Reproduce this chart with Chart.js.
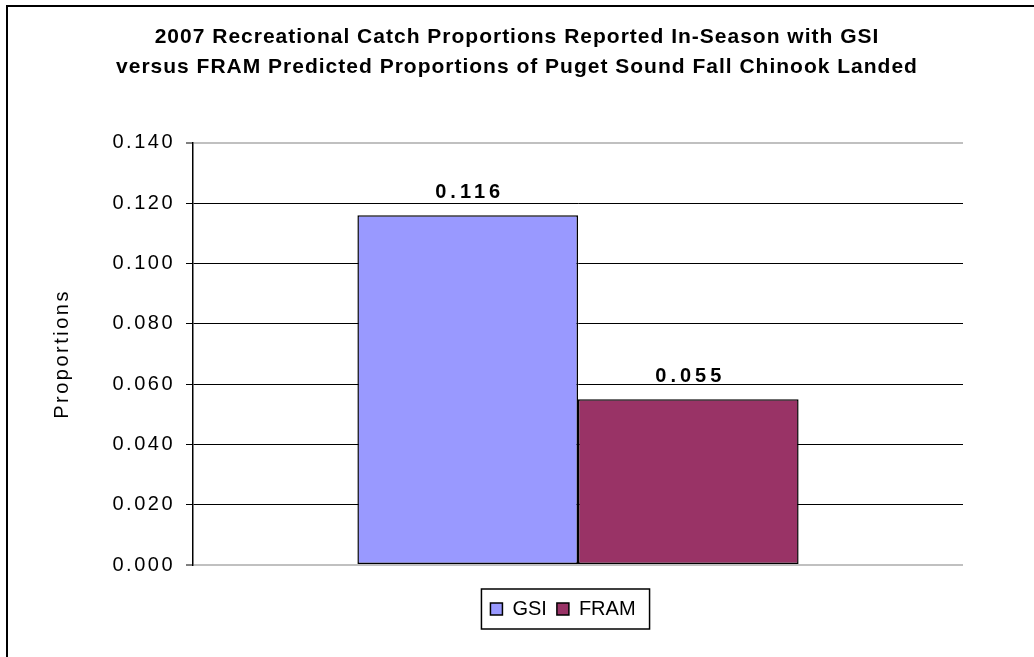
<!DOCTYPE html>
<html>
<head>
<meta charset="utf-8">
<title>2007 Recreational Catch Proportions</title>
<script src="https://cdn.jsdelivr.net/npm/chart.js@4/dist/chart.umd.min.js"></script>
<style>
  html, body { margin: 0; padding: 0; background: #fff; }
  #myChart { display: block; }
</style>
</head>
<body>
<canvas id="myChart" width="1034" height="657"></canvas>
<script>
// Chart data
var categories = [''];
var seriesNames = ['GSI', 'FRAM'];
var seriesValues = [0.116, 0.055];
var seriesColors = ['#9999FF', '#993366'];
var titleLines = [
    '2007 Recreational Catch Proportions Reported In-Season with GSI',
    'versus FRAM Predicted Proportions of Puget Sound Fall Chinook Landed'
];
var axisTitle = 'Proportions';
var yMin = 0;
var yMax = 0.14;
var yStep = 0.02;

var FONT = "'Liberation Sans', Arial, sans-serif";

//-----------------

// draw text of an element with extra space between letters
function spaceText(obj, method, px){
    if (obj['_spaced_' + method]) return;
    obj['_spaced_' + method] = true;
    var orig = obj[method];
    obj[method] = function(){
        var c = this.ctx;
        c.save();
        c.letterSpacing = px + 'px';
        orig.apply(this, arguments);
        c.restore();
    };
}

// move a layout box so its middle sits at x
function centreBox(box, x){
    var dx = x - (box.left + box.right) / 2;
    box.left += dx;
    box.right += dx;
}

var framePlugin = {
    id: 'frame',
    beforeDraw: function(chart){
        var c = chart.ctx;
        c.save();
        c.strokeStyle = '#000';
        c.lineWidth = 2;
        c.strokeRect(7, 6, 2000, 2000);
        c.restore();
    },
    afterLayout: function(chart){
        spaceText(chart.scales.y, 'drawLabels', 2.5);
        spaceText(chart.scales.y, 'drawTitle', 2.5);
        spaceText(chart.titleBlock, 'draw', 1);

        centreBox(chart.titleBlock, 517);
        centreBox(chart.legend, 563);
    },
    afterDraw: function(chart){
        // box round the legend
        var lg = chart.legend;
        var pad = lg.options.labels.padding;
        var span = lg.lineWidths[0] - pad;
        var x0 = (lg.left + pad + lg.right - lg.lineWidths[0]) / 2;
        var cy = (lg.top + lg.bottom) / 2;
        var c = chart.ctx;
        c.save();
        c.strokeStyle = '#000';
        c.lineWidth = 1.5;
        c.strokeRect(x0 - 9, cy - 20, span + 23, 40);
        c.restore();
    }
};

// value printed over each bar
var valueLabels = {
    id: 'valueLabels',
    afterDatasetsDraw: function(chart){
        var c = chart.ctx;
        c.save();
        c.font = 'bold 20px ' + FONT;
        c.fillStyle = '#000';
        c.textAlign = 'center';
        c.textBaseline = 'alphabetic';
        c.letterSpacing = '4px';
        chart.data.datasets.forEach(function(ds, i){
            var bar = chart.getDatasetMeta(i).data[0];
            c.fillText(ds.data[0].toFixed(3), bar.x + 2, bar.y - 17);
        });
        c.restore();
    }
};

function buildDatasets(){
    var sets = [];
    for (var i = 0; i < seriesNames.length; i++){
        sets.push({
            label: seriesNames[i],
            data: [seriesValues[i]],
            backgroundColor: seriesColors[i],
            borderColor: '#000',
            borderWidth: 1.5,
            borderSkipped: false,
            categoryPercentage: 0.573,
            barPercentage: 1
        });
    }
    return sets;
}

Chart.defaults.color = '#000';
Chart.defaults.font.family = FONT;

var ctx = document.getElementById('myChart').getContext('2d');
var chart = new Chart(ctx, {
    type: 'bar',
    data: {
        labels: categories,
        datasets: buildDatasets()
    },
    options: {
        responsive: false,
        animation: false,
        layout: { padding: { left: 0, right: 71, top: 0, bottom: 28 } },
        plugins: {
            title: {
                display: true,
                text: titleLines,
                color: '#000',
                font: { size: 21, weight: 'bold', lineHeight: 1.45 },
                padding: { top: 22, bottom: 60 }
            },
            legend: {
                position: 'bottom',
                labels: {
                    color: '#000',
                    font: { size: 20 },
                    boxWidth: 12,
                    boxHeight: 12,
                    padding: 10
                }
            },
            tooltip: { enabled: false }
        },
        scales: {
            x: {
                grid: { display: false, drawTicks: false },
                border: { display: false },
                ticks: { display: false },
                afterFit: function(scale){ scale.height = 24; }
            },
            y: {
                min: yMin,
                max: yMax,
                ticks: {
                    stepSize: yStep,
                    padding: 11,
                    color: '#000',
                    font: { size: 20 },
                    callback: function(v){ return v.toFixed(3); }
                },
                grid: {
                    color: function(c){
                        return (c.index === 0 || c.index === 7) ? '#c0c0c0' : '#000';
                    },
                    lineWidth: function(c){
                        return (c.index === 0 || c.index === 7) ? 2 : 1;
                    },
                    tickColor: '#000',
                    tickLength: 7,
                    tickWidth: 1
                },
                border: { display: true, color: '#000', width: 1.5 },
                title: {
                    display: true,
                    text: axisTitle,
                    color: '#000',
                    font: { size: 20 },
                    padding: { top: 50, bottom: 0 }
                },
                afterFit: function(scale){ scale.width = 193; }
            }
        }
    },
    plugins: [framePlugin, valueLabels]
});
</script>
</body>
</html>
